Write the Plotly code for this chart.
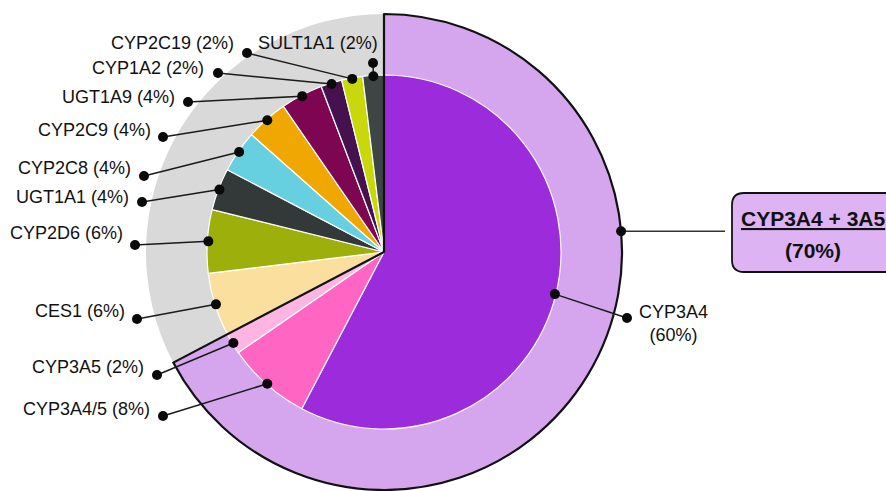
import math
import plotly.graph_objects as go

# ---------------- data ----------------
enzymes = ["CYP3A4", "CYP3A4/5", "CYP3A5", "CES1", "CYP2D6", "UGT1A1",
           "CYP2C8", "CYP2C9", "UGT1A9", "CYP1A2", "CYP2C19", "SULT1A1"]
shares = [60, 8, 2, 6, 6, 4, 4, 4, 4, 2, 2, 2]
group_members = ["CYP3A4", "CYP3A4/5", "CYP3A5"]
group_label = "CYP3A4 + 3A5"
group_share = 70

# ---------------- styles ----------------
slice_colors = ["#9B2BDB", "#FF66C4", "#FFB5E2", "#FADF9F", "#9DAF0A", "#333838",
                "#66D0E0", "#F0A800", "#7E0552", "#45124F", "#C8D80A", "#3D4545"]
ring_colors = ["#D5A6EE", "#D9D9D9"]
box_fill = "#DDB3F3"
FONT = "Liberation Sans, Arial, sans-serif"

W, H = 886, 491
CX, CY = 384, 252
R_OUT, R_IN = 238, 177

# label layout: (text right x, text centre y, end-dot x, end-dot y)
label_layout = {
    "CYP2C19": (236, 43, 247, 53),
    "SULT1A1": (380, 43, 373, 63),
    "CYP1A2": (206, 68, 218, 73),
    "UGT1A9": (177, 97, 188, 102),
    "CYP2C9": (153, 130, 163, 137),
    "CYP2C8": (133, 168, 144, 176),
    "UGT1A1": (131, 197, 142, 202),
    "CYP2D6": (125, 233, 135, 245),
    "CES1": (127, 311, 137, 319),
    "CYP3A5": (146, 367, 157, 375),
    "CYP3A4/5": (152, 409, 163, 416),
}
main_text_pos = (673, 323)
main_dot_end = (627, 318)


def dom(r):
    return dict(x=[(CX - r) / W, (CX + r) / W],
                y=[(H - CY - r) / H, (H - CY + r) / H])


grp = sum(s for e, s in zip(enzymes, shares) if e in group_members)
rest = sum(s for e, s in zip(enzymes, shares) if e not in group_members)
outer_vals = [grp, rest]

fig = go.Figure()
common = dict(sort=False, direction="clockwise", rotation=0, textinfo="none",
              hoverinfo="label+value", showlegend=False)
fig.add_trace(go.Pie(labels=[group_label, "Other"], values=outer_vals, domain=dom(R_OUT),
                     marker=dict(colors=ring_colors, line=dict(width=0)), **common))
fig.add_trace(go.Pie(labels=enzymes, values=shares, domain=dom(R_IN),
                     marker=dict(colors=slice_colors, line=dict(color="white", width=1.2)),
                     **common))
fig.add_trace(go.Pie(labels=[group_label + " ", "Other "], values=outer_vals, domain=dom(R_OUT),
                     marker=dict(colors=["rgba(0,0,0,0)", "rgba(0,0,0,0)"],
                                 line=dict(color=["#111111", "rgba(0,0,0,0)"], width=[2.2, 0])),
                     **common))

shapes = []
annotations = []


def dot(x, y, r=5):
    shapes.append(dict(type="circle", xref="x", yref="y", x0=x - r, x1=x + r, y0=y - r, y1=y + r,
                       fillcolor="#0a0a0a", line=dict(width=0), layer="above"))


def seg(x0, y0, x1, y1, color="#1a1a1a"):
    shapes.append(dict(type="line", xref="x", yref="y", x0=x0, y0=y0, x1=x1, y1=y1,
                       line=dict(color=color, width=1.5), layer="above"))


total = sum(shares)
cum = 0
for name, s in zip(enzymes, shares):
    mid = (cum + s / 2) / total * 2 * math.pi
    cum += s
    ix = CX + (R_IN - 1) * math.sin(mid)
    iy = CY - (R_IN - 1) * math.cos(mid)
    if name == "CYP3A4":
        ex, ey = main_dot_end
        seg(ix, iy, ex, ey)
        dot(ix, iy)
        dot(ex, ey)
        annotations.append(dict(x=main_text_pos[0], y=main_text_pos[1], xref="x", yref="y",
                                text=f"{name}<br>({s}%)", showarrow=False, xanchor="center",
                                yanchor="middle", font=dict(family=FONT, size=18, color="#111")))
        continue
    tx, ty, ex, ey = label_layout[name]
    seg(ix, iy, ex, ey)
    dot(ix, iy)
    dot(ex, ey)
    annotations.append(dict(x=tx, y=ty, xref="x", yref="y", text=f"{name} ({s}%)",
                            showarrow=False, xanchor="right", yanchor="middle",
                            font=dict(family=FONT, size=18, color="#111")))

# group callout
ang = math.radians(85)
gx, gy = CX + R_OUT * math.sin(ang), CY - R_OUT * math.cos(ang)
seg(gx, gy, 725, gy, color="#333333")
dot(gx, gy)
bx0, by0, bx1, by1, rr = 732, 193, 910, 272, 12
path = (f"M {bx0+rr},{by0} L {bx1-rr},{by0} Q {bx1},{by0} {bx1},{by0+rr} "
        f"L {bx1},{by1-rr} Q {bx1},{by1} {bx1-rr},{by1} L {bx0+rr},{by1} "
        f"Q {bx0},{by1} {bx0},{by1-rr} L {bx0},{by0+rr} Q {bx0},{by0} {bx0+rr},{by0} Z")
shapes.append(dict(type="path", xref="x", yref="y", path=path, fillcolor=box_fill,
                   line=dict(color="#111111", width=1.8), layer="above"))
annotations.append(dict(x=739, y=218, xref="x", yref="y", text=f"<b><u>{group_label}</u></b>",
                        showarrow=False, xanchor="left", yanchor="middle",
                        font=dict(family=FONT, size=21, color="#111")))
annotations.append(dict(x=813, y=250, xref="x", yref="y", text=f"<b>({group_share}%)</b>",
                        showarrow=False, xanchor="center", yanchor="middle",
                        font=dict(family=FONT, size=21, color="#111")))

fig.update_layout(
    width=W, height=H, margin=dict(l=0, r=0, t=0, b=0),
    paper_bgcolor="white", plot_bgcolor="rgba(0,0,0,0)",
    xaxis=dict(range=[0, W], visible=False, fixedrange=True),
    yaxis=dict(range=[H, 0], visible=False, fixedrange=True),
    shapes=shapes, annotations=annotations, showlegend=False,
)
fig.write_html("out.html", config={"displayModeBar": False},
               post_script="document.body.style.margin='0px';document.body.style.overflow='hidden';")
